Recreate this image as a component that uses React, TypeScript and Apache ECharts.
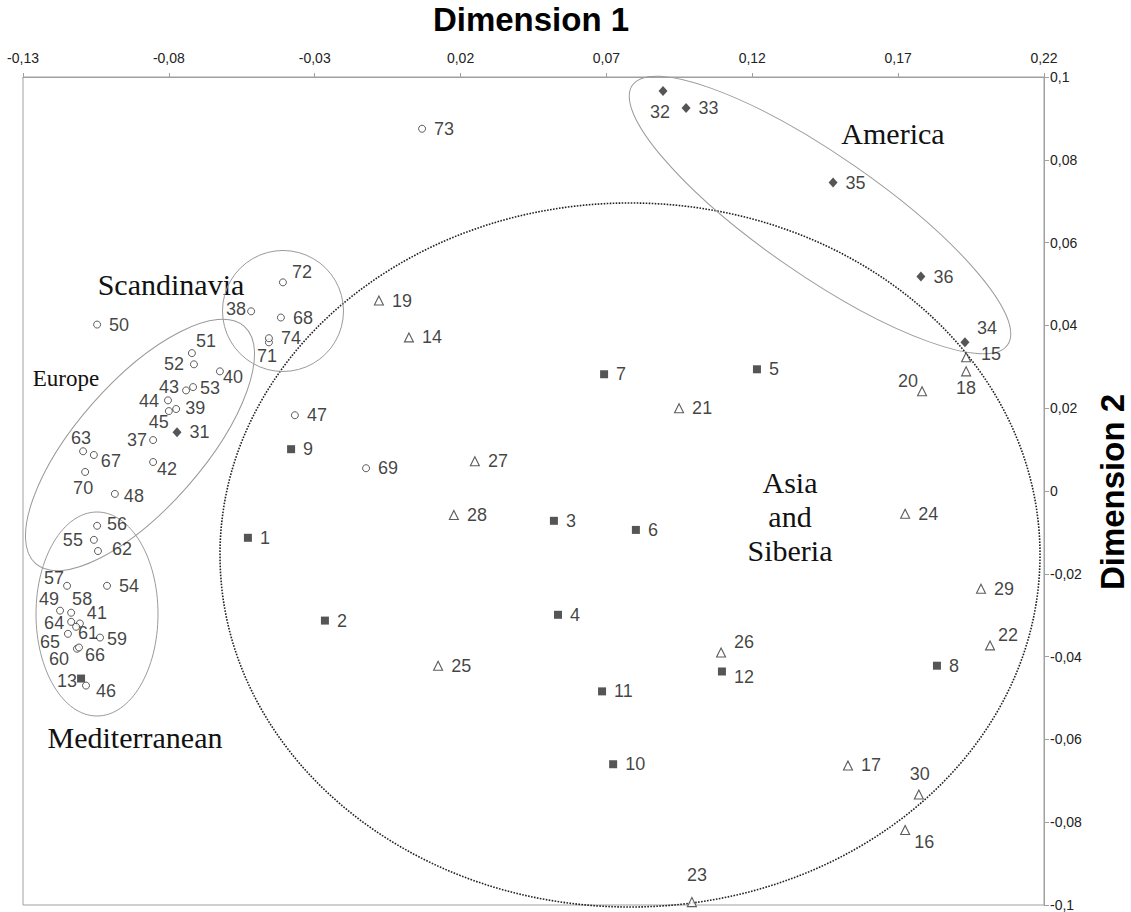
import React, { useEffect, useRef } from "react";
import * as echarts from "echarts";

// Tick labels
const xTicks = [-0.13, -0.08, -0.03, 0.02, 0.07, 0.12, 0.17, 0.22];
const yTicks = [-0.1, -0.08, -0.06, -0.04, -0.02, 0, 0.02, 0.04, 0.06, 0.08, 0.1];

// [id, Dimension 1, Dimension 2]
const squarePoints: [number, number, number][] = [
  [1, -0.0529, -0.0113],
  [2, -0.0265, -0.0313],
  [3, 0.052, -0.0072],
  [4, 0.0534, -0.0299],
  [5, 0.1216, 0.0294],
  [6, 0.0801, -0.0094],
  [7, 0.0692, 0.0282],
  [8, 0.1833, -0.0422],
  [9, -0.0381, 0.0101],
  [10, 0.0723, -0.066],
  [11, 0.0685, -0.0484],
  [12, 0.1096, -0.0436],
  [13, -0.1101, -0.0453],
];

const trianglePoints: [number, number, number][] = [
  [14, 0.0023, 0.0371],
  [15, 0.1933, 0.0323],
  [16, 0.1724, -0.0819],
  [17, 0.1528, -0.0663],
  [18, 0.1933, 0.0289],
  [19, -0.008, 0.046],
  [20, 0.1782, 0.0241],
  [21, 0.0949, 0.02],
  [22, 0.2015, -0.0373],
  [23, 0.0993, -0.0993],
  [24, 0.1724, -0.0055],
  [25, 0.0123, -0.0422],
  [26, 0.1093, -0.039],
  [27, 0.0249, 0.0072],
  [28, 0.0177, -0.0058],
  [29, 0.1984, -0.0236],
  [30, 0.1771, -0.0733],
];

const diamondPoints: [number, number, number][] = [
  [31, -0.0772, 0.0142],
  [32, 0.0894, 0.0966],
  [33, 0.0973, 0.0925],
  [34, 0.1929, 0.0359],
  [35, 0.1477, 0.0745],
  [36, 0.1778, 0.0518],
];

const circlePoints: [number, number, number][] = [
  [37, -0.0854, 0.0123],
  [38, -0.0518, 0.0434],
  [39, -0.0775, 0.0198],
  [40, -0.0625, 0.0289],
  [41, -0.1105, -0.032],
  [42, -0.0854, 0.007],
  [43, -0.0741, 0.0243],
  [44, -0.0803, 0.0219],
  [45, -0.08, 0.0193],
  [46, -0.1084, -0.047],
  [47, -0.0368, 0.0183],
  [48, -0.0985, -0.0007],
  [49, -0.1173, -0.0289],
  [50, -0.1046, 0.0402],
  [51, -0.0721, 0.0333],
  [52, -0.0714, 0.0306],
  [53, -0.0717, 0.0251],
  [54, -0.1012, -0.0229],
  [55, -0.1057, -0.0118],
  [56, -0.1046, -0.0084],
  [57, -0.1149, -0.0229],
  [58, -0.1135, -0.0294],
  [59, -0.1036, -0.0354],
  [60, -0.1115, -0.0381],
  [61, -0.1118, -0.0328],
  [62, -0.1043, -0.0145],
  [63, -0.1094, 0.0096],
  [64, -0.1135, -0.0316],
  [65, -0.1146, -0.0345],
  [66, -0.1108, -0.0378],
  [67, -0.1057, 0.0087],
  [68, -0.0416, 0.0419],
  [69, -0.0124, 0.0055],
  [70, -0.1087, 0.0046],
  [71, -0.0457, 0.0359],
  [72, -0.0409, 0.0504],
  [73, 0.0068, 0.0875],
  [74, -0.0457, 0.0369],
];

// label centre offsets (px) for labels not placed to the right of their marker
const labelOffsets: Record<number, [number, number]> = {
  32: [-3, 21], 34: [22, -14], 15: [25, -3], 18: [0, 17], 20: [-14, -10],
  26: [23, -10], 12: [22, 5], 30: [1, -20], 16: [19, 12], 23: [5, -27],
  22: [18, -10], 72: [19, -10], 38: [-15, -2], 71: [-2, 14], 51: [14, -12],
  52: [-20, 0], 40: [13, 6], 43: [-17, -3], 53: [17, 1], 44: [-19, 1],
  39: [19, -1], 45: [-10, 11], 37: [-16, 0], 63: [-2, -13], 67: [17, 6],
  42: [14, 7], 70: [-2, 16], 48: [19, 2], 56: [20, -2], 55: [-21, 0],
  62: [24, -2], 57: [-13, -8], 49: [-11, -12], 58: [11, -14], 41: [17, -10],
  64: [-17, 1], 61: [12, 6], 65: [-18, 8], 59: [17, 1], 60: [-18, 10],
  66: [16, 8], 13: [-14, 2], 46: [20, 5],
};

const SANS = "'Liberation Sans', Arial, Helvetica, sans-serif";
const SERIF = "'Liberation Serif', 'Times New Roman', serif";

const fmt = (v: number) => String(Math.round(v * 100) / 100).replace(".", ",");

function buildData(pts: [number, number, number][]) {
  return pts.map(([id, x, y]) => {
    const off = labelOffsets[id];
    const item: any = { name: String(id), value: [x, y] };
    if (off) {
      item.label = { position: "inside", offset: off, align: "center", verticalAlign: "middle" };
    }
    return item;
  });
}

function makeSeries(name: string, pts: [number, number, number][], symbol: string, size: any, itemStyle: any) {
  return {
    name,
    type: "scatter",
    symbol,
    symbolSize: size,
    itemStyle,
    data: buildData(pts),
    label: {
      show: true,
      formatter: "{b}",
      position: "right",
      distance: 8,
      fontSize: 18,
      color: "#111",
      fontFamily: SANS,
    },
    emphasis: { disabled: true },
    z: 3,
  };
}

export default function App() {
  const ref = useRef<HTMLDivElement>(null);
  useEffect(() => {
    if (!ref.current) return;
    const chart = echarts.init(ref.current, undefined, { renderer: "svg" });
    const grey = "#a0a0a0";
    const option: any = {
      animation: false,
      backgroundColor: "#fff",
      textStyle: { fontFamily: SANS },
      grid: {
        left: 23,
        right: 87,
        top: 77,
        bottom: 5,
        show: true,
        borderColor: grey,
        borderWidth: 1,
        backgroundColor: "transparent",
      },
      xAxis: {
        type: "value",
        position: "top",
        min: -0.13,
        max: 0.22,
        axisLine: { show: true, onZero: false, lineStyle: { color: grey, width: 1 } },
        axisTick: { show: true, length: 4, customValues: xTicks, lineStyle: { color: grey } },
        axisLabel: { customValues: xTicks, formatter: fmt, fontSize: 14, color: "#222", margin: 12, fontFamily: SANS },
        splitLine: { show: false },
      },
      yAxis: {
        type: "value",
        position: "right",
        min: -0.1,
        max: 0.1,
        axisLine: { show: true, onZero: false, lineStyle: { color: grey, width: 1 } },
        axisTick: { show: true, length: 5, customValues: yTicks, lineStyle: { color: grey } },
        axisLabel: { customValues: yTicks, formatter: fmt, fontSize: 14, color: "#222", margin: 6, fontFamily: SANS },
        splitLine: { show: false },
      },
      series: [
        makeSeries("Asia", squarePoints, "rect", 8, { color: "#2b2b2b" }),
        makeSeries("Siberia", trianglePoints, "triangle", 9, { color: "#fff", borderColor: "#333", borderWidth: 1.1 }),
        makeSeries("America", diamondPoints, "diamond", [9, 10], { color: "#2b2b2b" }),
        makeSeries("Europe", circlePoints, "circle", 7, { color: "#fff", borderColor: "#333", borderWidth: 1 }),
      ],
      graphic: [
        {
          type: "ellipse", x: 630, y: 555, silent: true, z: 1,
          shape: { cx: 0, cy: 0, rx: 410, ry: 352 },
          style: { fill: "none", stroke: "#222", lineWidth: 1.6, lineDash: [1.6, 1.4] },
        },
        {
          type: "ellipse", x: 820, y: 215, rotation: -0.605, silent: true, z: 1,
          shape: { cx: 0, cy: 0, rx: 228, ry: 60 },
          style: { fill: "none", stroke: "#9a9a9a", lineWidth: 1 },
        },
        {
          type: "ellipse", x: 140, y: 445, rotation: 0.85, silent: true, z: 1,
          shape: { cx: 0, cy: 0, rx: 158, ry: 63 },
          style: { fill: "none", stroke: "#9a9a9a", lineWidth: 1 },
        },
        {
          type: "circle", x: 283, y: 311, silent: true, z: 1,
          shape: { cx: 0, cy: 0, r: 60.5 },
          style: { fill: "none", stroke: "#9a9a9a", lineWidth: 1 },
        },
        {
          type: "ellipse", x: 97, y: 614, silent: true, z: 1,
          shape: { cx: 0, cy: 0, rx: 61, ry: 102 },
          style: { fill: "none", stroke: "#9a9a9a", lineWidth: 1 },
        },
        {
          type: "text", x: 531, y: 19, silent: true,
          style: { text: "Dimension 1", font: `bold 33px ${SANS}`, fill: "#000", align: "center", verticalAlign: "middle" },
        },
        {
          type: "text", x: 1112, y: 492, rotation: Math.PI / 2, silent: true,
          style: { text: "Dimension 2", font: `bold 33px ${SANS}`, fill: "#000", align: "center", verticalAlign: "middle" },
        },
        {
          type: "text", x: 893, y: 133, silent: true,
          style: { text: "America", font: `30px ${SERIF}`, fill: "#111", align: "center", verticalAlign: "middle" },
        },
        {
          type: "text", x: 171, y: 284, silent: true,
          style: { text: "Scandinavia", font: `30px ${SERIF}`, fill: "#111", align: "center", verticalAlign: "middle" },
        },
        {
          type: "text", x: 66, y: 378, silent: true,
          style: { text: "Europe", font: `23px ${SERIF}`, fill: "#111", align: "center", verticalAlign: "middle" },
        },
        {
          type: "text", x: 135, y: 737, silent: true,
          style: { text: "Mediterranean", font: `30px ${SERIF}`, fill: "#111", align: "center", verticalAlign: "middle" },
        },
        {
          type: "text", x: 790, y: 516, silent: true,
          style: { text: "Asia\nand\nSiberia", font: `30px ${SERIF}`, lineHeight: 34, fill: "#111", align: "center", verticalAlign: "middle" },
        },
      ],
    };
    chart.setOption(option);
    return () => chart.dispose();
  }, []);
  return (
    <div
      ref={ref}
      style={{ position: "fixed", left: 0, top: 0, width: 1131, height: 912, background: "#fff" }}
    />
  );
}
